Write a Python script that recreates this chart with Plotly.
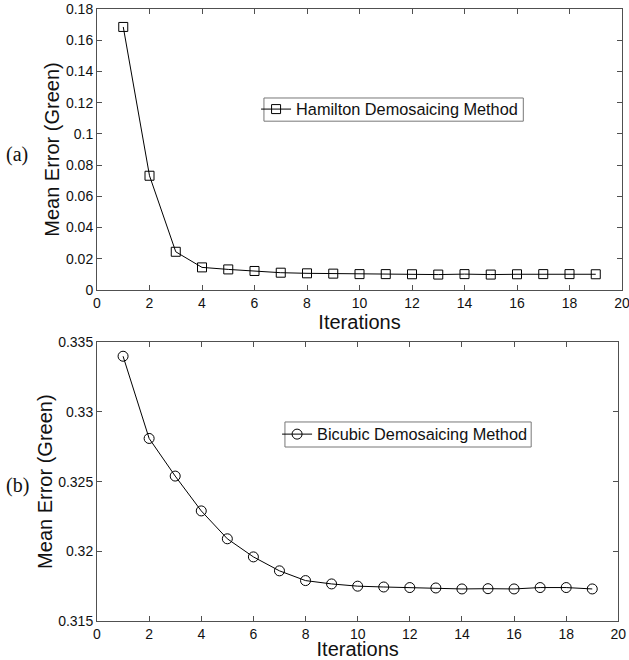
import plotly.graph_objects as go
from plotly.subplots import make_subplots

# Iteration index shared by both experiments
iterations = list(range(1, 20))

# Mean error on the green channel, Hamilton demosaicing initialisation
hamilton_err = [0.1685, 0.0732, 0.0245, 0.0145, 0.0132, 0.0122, 0.0111, 0.0107,
                0.0105, 0.0102, 0.0102, 0.0101, 0.0099, 0.0102, 0.0099, 0.0101,
                0.0102, 0.0102, 0.0101]

# Mean error on the green channel, bicubic demosaicing initialisation
bicubic_err = [0.3340, 0.3281, 0.3254, 0.3229, 0.3209, 0.3196, 0.3186, 0.3179,
               0.31766, 0.3175, 0.31744, 0.3174, 0.31737, 0.3173, 0.31732, 0.3173,
               0.3174, 0.3174, 0.3173]

top_yticks = [0, 0.02, 0.04, 0.06, 0.08, 0.1, 0.12, 0.14, 0.16, 0.18]
top_yticklabels = ["0", "0.02", "0.04", "0.06", "0.08", "0.1", "0.12", "0.14", "0.16", "0.18"]
bottom_yticks = [0.315, 0.32, 0.325, 0.33, 0.335]
bottom_yticklabels = ["0.315", "0.32", "0.325", "0.33", "0.335"]
xticks = list(range(0, 21, 2))

SANS = "Liberation Sans"
SERIF = "Liberation Serif"
AXIS_COLOR = "#505050"

fig = make_subplots(rows=2, cols=1, vertical_spacing=0.08)

fig.add_trace(go.Scatter(
    x=iterations, y=hamilton_err, mode="lines+markers",
    name="Hamilton Demosaicing Method",
    line=dict(color="black", width=1),
    marker=dict(symbol="square-open", size=9, color="black", line=dict(width=1)),
    legend="legend",
), row=1, col=1)

fig.add_trace(go.Scatter(
    x=iterations, y=bicubic_err, mode="lines+markers",
    name="Bicubic Demosaicing Method",
    line=dict(color="black", width=1),
    marker=dict(symbol="circle-open", size=10, color="black", line=dict(width=1)),
    legend="legend2",
), row=2, col=1)

axis_common = dict(
    showline=True, linecolor=AXIS_COLOR, linewidth=1, mirror="allticks",
    ticks="inside", ticklen=5, tickcolor=AXIS_COLOR, tickwidth=1,
    showgrid=False, zeroline=False, ticklabeloverflow="allow",
    tickfont=dict(family=SANS, size=14, color="#111"),
)

fig.update_xaxes(**axis_common, range=[0, 20], tickvals=xticks,
                 title=dict(text="Iterations", font=dict(family=SANS, size=20, color="#111"),
                            standoff=0))
fig.update_xaxes(domain=[0, 1], row=1, col=1)
fig.update_xaxes(domain=[0, 0.993], row=2, col=1)

fig.update_yaxes(**axis_common,
                 title=dict(text="Mean Error (Green)", font=dict(family=SANS, size=20, color="#111"),
                            standoff=0))
fig.update_yaxes(range=[0, 0.18], tickvals=top_yticks, ticktext=top_yticklabels,
                 domain=[0.5408, 1.0], row=1, col=1)
fig.update_yaxes(range=[0.315, 0.335], tickvals=bottom_yticks, ticktext=bottom_yticklabels,
                 domain=[0.0, 0.4554], row=2, col=1)

# Legends: frameless, with a separately drawn tight frame around each
legend_style = dict(
    bgcolor="rgba(0,0,0,0)", borderwidth=0,
    font=dict(family=SANS, size=16.3, color="#111"),
    xanchor="left", yanchor="middle", itemwidth=30,
)
fig.update_layout(
    legend=dict(**legend_style, x=0.303, y=0.8358),
    legend2=dict(**legend_style, x=0.343, y=0.3047),
    showlegend=True,
)

frame = dict(type="rect", xref="paper", yref="paper", layer="below",
             line=dict(color="#777", width=1), fillcolor="white")
fig.add_shape(**frame, x0=0.318, x1=0.812, y0=0.8167, y1=0.8546)
fig.add_shape(**frame, x0=0.358, x1=0.827, y0=0.2843, y1=0.3252)

# Panel labels
fig.add_annotation(text="(a)", xref="paper", yref="paper", x=-0.152, y=0.763,
                   xanchor="center", yanchor="middle", showarrow=False,
                   font=dict(family=SERIF, size=20, color="#111"))
fig.add_annotation(text="(b)", xref="paper", yref="paper", x=-0.152, y=0.2222,
                   xanchor="center", yanchor="middle", showarrow=False,
                   font=dict(family=SERIF, size=20, color="#111"))

fig.update_layout(
    width=629, height=660,
    margin=dict(l=97, r=7, t=9, b=39, autoexpand=False),
    paper_bgcolor="white", plot_bgcolor="white",
)

fig.write_html("out.html")
